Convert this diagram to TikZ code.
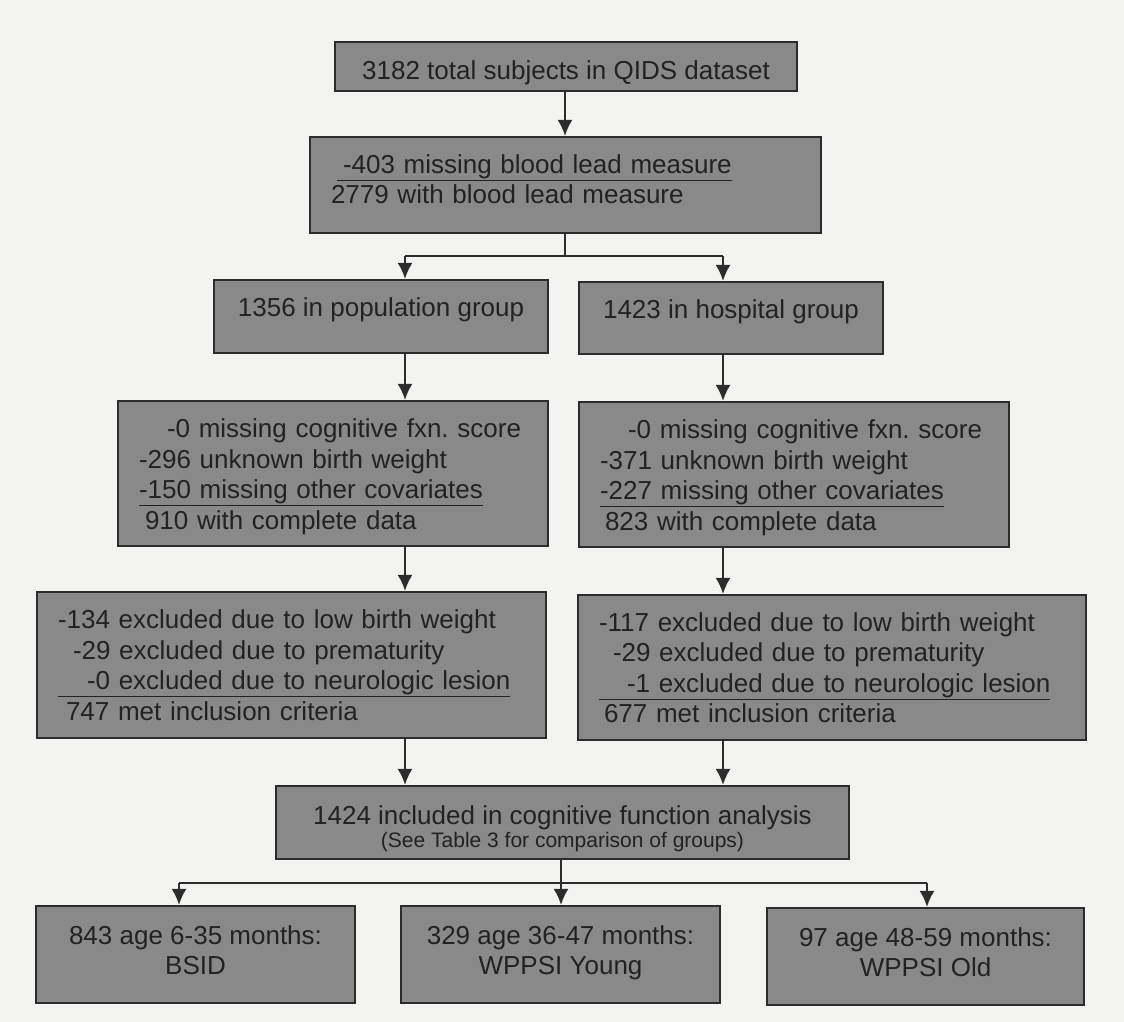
\documentclass[tikz,border=0pt]{standalone}
\usepackage{fontspec}
\setmainfont{Liberation Sans}
\usepackage{xcolor}
\usepackage{tikz}
\usetikzlibrary{arrows.meta,positioning,calc}
\definecolor{paper}{HTML}{F3F3F1}
\definecolor{boxgray}{HTML}{898989}
\definecolor{boxline}{HTML}{2C2C2C}
\definecolor{ink}{HTML}{222222}

\begin{document}
\begin{tikzpicture}[
  x=1pt,y=-1pt,
  every node/.style={draw=boxline,line width=2.2pt,rectangle,fill=boxgray,text=ink,align=center,inner xsep=21pt,inner ysep=0pt,font=\fontsize{26}{30.5}\selectfont},
  list/.style={align=left},
  line/.style={line width=2pt,draw=boxline},
  arrow/.style={-{Latex[length=16pt,width=15pt]},line width=2pt,draw=boxline}
]
  \fill[paper] (0,0) rectangle (1124,1022);
  \useasboundingbox (0,0) rectangle (1124,1022);

  \coordinate (colL) at (405,0);
  \coordinate (colR) at (723,0);
  \coordinate (colA) at (179,0);
  \coordinate (colC) at (927,0);
  \coordinate (fork1) at (565,256);
  \coordinate (fork2) at (561,883);

  \node (total) [minimum width=462,minimum height=49,text height=31pt,text depth=5.5pt] at (566,66.5) {3182 total subjects in QIDS dataset};
  \node (lead) [list,text width=469,minimum height=96] at (565.5,185) {\hspace*{6pt}\underline{\hspace*{6pt}-403 missing blood lead measure}\\2779 with blood lead measure\rule[-12pt]{0pt}{12pt}};
  \node (pop) [minimum width=334,minimum height=73,text height=19pt,text depth=19pt] at (381,316.5) {1356 in population group};
  \node (hosp) [minimum width=304,minimum height=72,text height=19pt,text depth=18pt] at (731,318) {1423 in hospital group};
  \node (missL) [list,text width=388,minimum height=145] at (333,473.5) {\rule{0pt}{25pt}\hspace*{28pt}-0 missing cognitive fxn.\ score\\-296 unknown birth weight\\\underline{-150 missing other covariates}\\\hspace*{6pt}910 with complete data};
  \node (missR) [list,text width=388,minimum height=145] at (794,474.5) {\rule{0pt}{25pt}\hspace*{28pt}-0 missing cognitive fxn.\ score\\-371 unknown birth weight\\\underline{-227 missing other covariates}\\\hspace*{5pt}823 with complete data};
  \node (exclL) [list,text width=467,minimum height=146] at (291.5,665) {-134 excluded due to low birth weight\\\hspace*{15pt}-29 excluded due to prematurity\\\underline{\hspace*{29pt}-0 excluded due to neurologic lesion}\\\hspace*{8pt}747 met inclusion criteria};
  \node (exclR) [list,text width=466,minimum height=145] at (832,667.5) {-117 excluded due to low birth weight\\\hspace*{14pt}-29 excluded due to prematurity\\\underline{\hspace*{28pt}-1 excluded due to neurologic lesion}\\\hspace*{5pt}677 met inclusion criteria};
  \node (analysis) [minimum width=573,minimum height=73] at (562.5,822.5) {\rule{0pt}{31pt}1424 included in cognitive function analysis\\[-7pt]\fontsize{21}{25}\selectfont (See Table 3 for comparison of groups)};
  \node (bsid) [minimum width=319,minimum height=97] at (195.5,954.5) {843 age 6-35 months:\\BSID\rule[-9pt]{0pt}{9pt}};
  \node (young) [minimum width=319,minimum height=97] at (560.5,954.5) {329 age 36-47 months:\\WPPSI Young\rule[-9pt]{0pt}{9pt}};
  \node (old) [minimum width=317,minimum height=97] at (925.5,956.5) {97 age 48-59 months:\\WPPSI Old\rule[-9pt]{0pt}{9pt}};

  \draw[arrow] (total.south -| fork1) -- (lead.north -| fork1);
  \draw[line] (lead.south -| fork1) -- (fork1);
  \draw[line] (fork1 -| colL) -- (fork1 -| colR);
  \draw[arrow] (fork1 -| colL) -- (pop.north -| colL);
  \draw[arrow] (fork1 -| colR) -- (hosp.north -| colR);
  \draw[arrow] (pop.south -| colL) -- (missL.north -| colL);
  \draw[arrow] (hosp.south -| colR) -- (missR.north -| colR);
  \draw[arrow] (missL.south -| colL) -- (exclL.north -| colL);
  \draw[arrow] (missR.south -| colR) -- (exclR.north -| colR);
  \draw[arrow] (exclL.south -| colL) -- (analysis.north -| colL);
  \draw[arrow] (exclR.south -| colR) -- (analysis.north -| colR);
  \draw[line] (analysis.south -| fork2) -- (fork2);
  \draw[line] (fork2 -| colA) -- (fork2 -| colC);
  \draw[arrow] (fork2 -| colA) -- (bsid.north -| colA);
  \draw[arrow] (fork2) -- (young.north -| fork2);
  \draw[arrow] (fork2 -| colC) -- (old.north -| colC);
\end{tikzpicture}
\end{document}
